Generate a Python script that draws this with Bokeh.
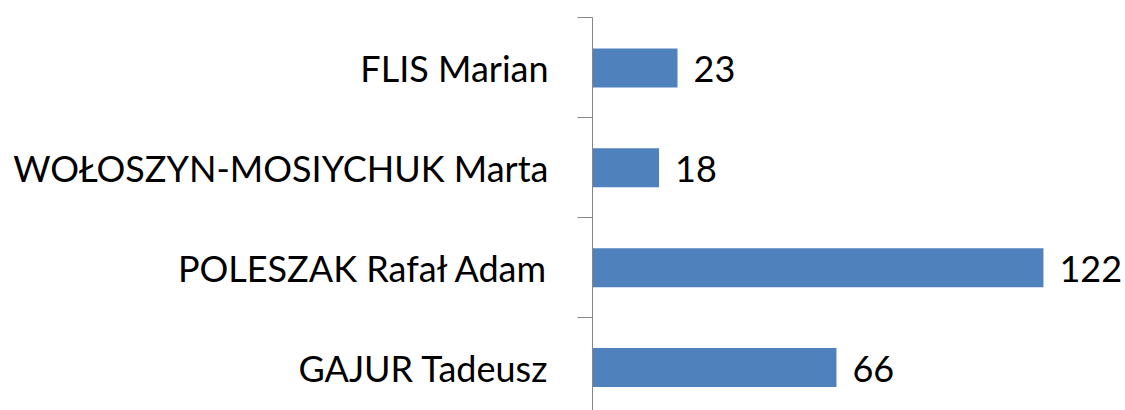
from bokeh.plotting import figure
from bokeh.models import ColumnDataSource, FixedTicker, Range1d
from bokeh.core.properties import value
from bokeh.embed import file_html
from bokeh.resources import INLINE

names = ["GAJUR Tadeusz", "POLESZAK Rafał Adam", "WOŁOSZYN-MOSIYCHUK Marta", "FLIS Marian"]
votes = [66, 122, 18, 23]
positions = [0, 1, 2, 3]

src = ColumnDataSource(dict(y=positions, v=votes, lbl=[str(v) for v in votes]))

p = figure(width=1125, height=410, output_backend="svg", toolbar_location=None,
           x_range=Range1d(0, 144.2), y_range=Range1d(-0.43, 3.505),
           x_axis_location=None, min_border_left=592, min_border_right=0,
           min_border_top=17, min_border_bottom=0)
p.outline_line_color = None
p.xgrid.visible = False
p.ygrid.visible = False

p.hbar(y="y", right="v", left=0, height=0.39, source=src,
       fill_color="#4F81BD", line_color=None)
p.text(x="v", y="y", text="lbl", source=src, x_offset=16, y_offset=1,
       text_align="left", text_baseline="middle",
       text_font=value("Lato"), text_font_size="36px", text_color="#000000")

ax = p.yaxis[0]
ax.ticker = FixedTicker(ticks=positions, minor_ticks=[-0.5, 0.5, 1.5, 2.5, 3.5])
ax.major_label_overrides = {i: n for i, n in zip(positions, names)}
ax.major_tick_out = 0
ax.major_tick_in = 0
ax.minor_tick_out = 15
ax.minor_tick_in = 0
ax.axis_line_color = "#868686"
ax.minor_tick_line_color = "#868686"
ax.major_label_standoff = 29
ax.major_label_text_font = "Lato"
ax.major_label_text_font_size = "36px"
ax.major_label_text_color = "#000000"

open("out.html", "w").write(file_html(p, INLINE))
